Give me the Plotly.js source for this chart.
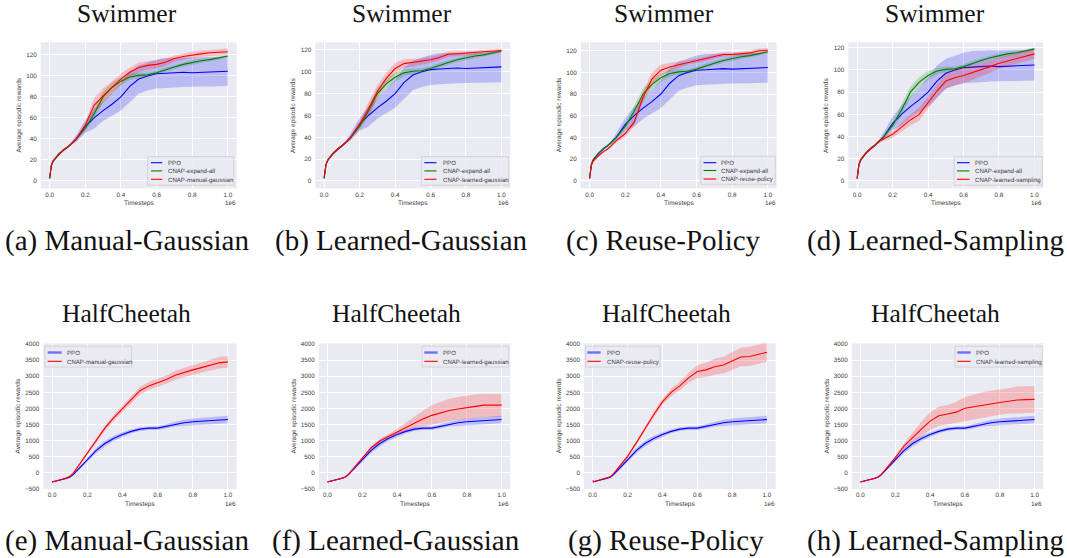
<!DOCTYPE html>
<html>
<head>
<meta charset="utf-8">
<script src="https://cdn.plot.ly/plotly-3.0.1.min.js"></script>
<style>
  body { margin: 0; background: #ffffff; }
  #chart { width: 1067px; height: 558px; }
  #chart text { text-rendering: geometricPrecision; }
</style>
</head>
<body>
<div id="chart"></div>
<script>
// Training curves: average episodic reward vs timesteps (mean with min/max band)
const timesteps = [0, 10000, 20000, 50000, 80000, 100000, 120000, 150000, 200000, 250000, 300000,
  350000, 400000, 450000, 500000, 550000, 600000, 650000, 700000, 750000, 800000, 850000,
  900000, 950000, 1000000];

const xTickVals = [0, 200000, 400000, 600000, 800000, 1000000];
const xTickText = ['0.0', '0.2', '0.4', '0.6', '0.8', '1.0'];
const swimTicks = [0, 20, 40, 60, 80, 100, 120];
const cheetahTicks = [-500, 0, 500, 1000, 1500, 2000, 2500, 3000, 3500, 4000];

// ---- Swimmer ----
const swimPpoMean = [3, 15, 19, 25, 29.5, 32, 35, 40, 52, 60, 67, 73, 80, 90, 97, 100, 102, 102.5, 103, 103.5, 103, 103.5, 104, 104, 104.5];
const swimPpoLo   = [1, 13, 17, 24, 28.5, 31, 34, 37, 46, 50, 57, 62, 67, 75, 83, 86, 88, 88.5, 89, 89.5, 90, 90, 90, 90, 90.5];
const swimPpoHi   = [5, 17, 21, 26.5, 30.5, 33, 36.5, 44, 58, 68, 76, 84, 93, 104, 110, 113, 115.5, 117, 117.5, 117.5, 117.5, 118, 118, 118, 118.5];

const swimExpandMean = [2, 15, 19, 25.5, 30, 32, 35, 40, 50, 64, 80, 89, 95, 99, 100.5, 101, 103, 106, 108.5, 111, 113, 114.5, 115.5, 117, 119];
const swimExpandLo   = [1, 14, 18, 24.5, 29, 31, 34, 38.5, 47, 59, 75, 84.5, 91, 96, 98, 99, 101, 104, 106.5, 109, 111, 112.5, 114, 115.5, 118];
const swimExpandHi   = [3, 16, 20, 26.5, 31, 33, 36, 41.5, 53, 69, 85, 93.5, 99, 102, 103, 103, 105, 108, 110.5, 113, 115, 116.5, 117, 118.5, 120];

const swimManualMean = [3, 15, 19, 25, 30, 32, 35, 40, 53, 72, 81, 89, 97, 103.5, 108, 110, 111, 113, 116.5, 118.5, 120, 121, 122, 122.5, 123];
const swimManualLo   = [2, 14, 18, 24, 29, 31, 34, 38, 50, 65, 74, 83, 92, 99, 103.5, 106, 107, 109.5, 113.5, 115.5, 117, 118, 119, 119.5, 120];
const swimManualHi   = [4, 16, 20, 26, 31, 33, 36, 42, 56, 79, 88, 95, 102, 108, 112.5, 114, 115, 116.5, 119.5, 121.5, 123, 124, 125, 125.5, 126];

const swimLearnedGMean = [3, 15, 19, 25, 29.5, 32, 35, 40, 52, 66, 82, 94, 103, 107.5, 108.5, 109.5, 111, 113, 116, 116.5, 117, 117.5, 118.5, 119, 119.5];
const swimLearnedGLo   = [2, 14, 18, 24, 28.5, 31, 34, 38, 49, 60, 76, 89, 98, 103.5, 105, 106.5, 108, 110.5, 113.5, 114.5, 115, 115.5, 117, 117.5, 118];
const swimLearnedGHi   = [4, 16, 20, 26, 30.5, 33, 36, 42, 55, 72, 88, 99, 108, 111.5, 112, 112.5, 114, 115.5, 118.5, 118.5, 119, 119.5, 120, 120.5, 121];

const swimReuseMean = [2, 14, 18, 23, 27, 29, 32, 37, 43.5, 54, 77, 94, 102, 105, 107, 109, 111, 112.5, 115, 116.5, 116.5, 117.5, 118, 120, 120.5];
const swimReuseLo   = [1, 13, 17, 22, 26, 28, 31, 35.5, 40.5, 50, 72, 88, 97, 101, 104, 107, 109, 110.5, 113, 114.5, 114.5, 115.5, 116, 118, 118.5];
const swimReuseHi   = [3, 15, 19, 24, 28, 30, 33, 38.5, 46.5, 58, 82, 100, 107, 109, 110, 111, 113, 114.5, 117, 118.5, 118.5, 119.5, 120, 122, 122.5];

const swimSamplingMean = [2, 15, 19, 25, 29.5, 32, 35.5, 38, 42, 48.5, 55, 60, 71, 81, 90, 93, 95, 97.5, 100, 103, 106, 108, 110, 112.5, 114.5];
const swimSamplingLo   = [1, 14, 18, 24, 28.5, 31, 34, 36, 39, 44.5, 50, 54, 65, 75, 83, 86, 88, 91, 94, 97.5, 101, 103, 105.5, 108, 110];
const swimSamplingHi   = [3, 16, 20, 26, 30.5, 33, 37, 40, 45, 52.5, 60, 66, 77, 87, 97, 100, 102, 104, 106, 108.5, 111, 113, 114.5, 117, 119];

// ---- HalfCheetah ----
const cheetahPpoMean = [-300, -290, -270, -230, -190, -150, -70, 100, 400, 680, 900, 1060, 1180, 1280, 1350, 1380, 1380, 1440, 1510, 1550, 1580, 1600, 1610, 1630, 1650];
const cheetahPpoLo   = [-320, -305, -285, -245, -205, -170, -110, 50, 320, 600, 810, 980, 1110, 1220, 1295, 1325, 1320, 1370, 1430, 1460, 1480, 1495, 1500, 1515, 1530];
const cheetahPpoHi   = [-280, -275, -255, -215, -175, -130, -30, 150, 480, 760, 990, 1140, 1250, 1340, 1405, 1435, 1440, 1510, 1590, 1640, 1680, 1705, 1720, 1745, 1770];

const cheetahManualMean = [-300, -290, -270, -230, -180, -130, -30, 200, 600, 1000, 1380, 1700, 2000, 2270, 2550, 2700, 2800, 2900, 3030, 3120, 3200, 3270, 3350, 3420, 3450];
const cheetahManualLo   = [-320, -305, -285, -245, -195, -150, -60, 160, 540, 930, 1300, 1610, 1900, 2160, 2430, 2580, 2680, 2770, 2890, 2970, 3050, 3110, 3180, 3240, 3270];
const cheetahManualHi   = [-280, -275, -255, -215, -165, -110, 0, 240, 660, 1070, 1460, 1790, 2100, 2380, 2670, 2820, 2920, 3030, 3170, 3270, 3350, 3430, 3520, 3600, 3630];

const cheetahLearnedGMean = [-300, -290, -270, -230, -190, -150, -70, 120, 450, 760, 980, 1120, 1250, 1400, 1550, 1670, 1780, 1860, 1930, 1980, 2030, 2060, 2100, 2100, 2100];
const cheetahLearnedGLo   = [-320, -305, -285, -245, -205, -170, -100, 80, 400, 710, 930, 1060, 1180, 1280, 1380, 1430, 1480, 1540, 1600, 1640, 1680, 1700, 1720, 1730, 1730];
const cheetahLearnedGHi   = [-280, -275, -255, -215, -175, -130, -40, 160, 500, 810, 1040, 1190, 1350, 1550, 1750, 1930, 2100, 2200, 2300, 2350, 2400, 2430, 2450, 2450, 2450];

const cheetahReuseMean = [-260, -290, -270, -220, -180, -140, -40, 150, 500, 920, 1380, 1800, 2200, 2500, 2700, 2950, 3150, 3200, 3300, 3350, 3480, 3600, 3620, 3680, 3750];
const cheetahReuseLo   = [-300, -305, -285, -235, -195, -160, -70, 110, 450, 860, 1310, 1710, 2100, 2380, 2570, 2790, 2950, 2980, 3050, 3090, 3200, 3310, 3320, 3380, 3450];
const cheetahReuseHi   = [-220, -275, -255, -205, -165, -120, -10, 190, 550, 980, 1450, 1890, 2300, 2620, 2830, 3110, 3350, 3420, 3550, 3610, 3760, 3890, 3920, 3980, 4050];

const cheetahSamplingMean = [-300, -290, -270, -230, -190, -150, -70, 120, 460, 820, 1100, 1350, 1600, 1770, 1820, 1880, 2000, 2050, 2080, 2150, 2180, 2220, 2260, 2270, 2280];
const cheetahSamplingLo   = [-320, -305, -285, -245, -205, -170, -100, 80, 420, 730, 950, 1130, 1320, 1450, 1500, 1540, 1600, 1650, 1700, 1760, 1800, 1830, 1850, 1855, 1860];
const cheetahSamplingHi   = [-280, -275, -255, -215, -175, -130, -40, 160, 500, 900, 1250, 1580, 1880, 2050, 2100, 2200, 2350, 2430, 2500, 2550, 2580, 2630, 2680, 2690, 2700];

const BLUE = '#0000ff', GREEN = '#008000', RED = '#ff0000';
const BAND = {
  [BLUE]: 'rgba(0,0,255,0.2)',
  [GREEN]: 'rgba(0,128,0,0.2)',
  [RED]: 'rgba(255,0,0,0.2)'
};

const W = 1067, H = 558;
const px = v => v / W;
const py = v => 1 - v / H;

const swimPpo = { name: 'PPO', color: BLUE, mean: swimPpoMean, lo: swimPpoLo, hi: swimPpoHi };
const swimExpand = { name: 'CNAP-expand-all', color: GREEN, mean: swimExpandMean, lo: swimExpandLo, hi: swimExpandHi };
const cheetahPpo = { name: 'PPO', color: BLUE, mean: cheetahPpoMean, lo: cheetahPpoLo, hi: cheetahPpoHi, thickKey: true };

// Subplot boxes in pixels: [left, right, top, bottom]
const panels = [
  { box: [40.7, 236.7, 42.3, 188.3], yr: [-7, 132], yt: swimTicks, env: 'Swimmer', caption: '(a) Manual-Gaussian',
    series: [swimPpo, swimExpand, { name: 'CNAP-manual-gaussian', color: RED, mean: swimManualMean, lo: swimManualLo, hi: swimManualHi }],
    leg: { box: [147.7, 233.8, 156.7, 185.2], line: [151, 162.3], text: 166.2, ys: [162.7, 170.9, 179.3] },
    ylab: 19.3, capX: 126.5 },
  { box: [315.3, 510.3, 42.3, 188.3], yr: [-6.7, 127], yt: swimTicks, env: 'Swimmer', caption: '(b) Learned-Gaussian',
    series: [swimPpo, swimExpand, { name: 'CNAP-learned-gaussian', color: RED, mean: swimLearnedGMean, lo: swimLearnedGLo, hi: swimLearnedGHi }],
    leg: { box: [421.3, 508.7, 156.7, 185.2], line: [424.3, 436.5], text: 440.5, ys: [162.7, 170.9, 179.3] },
    ylab: 293.7, capX: 401.5 },
  { box: [580.7, 776.7, 42.3, 188.3], yr: [-7.1, 127.8], yt: swimTicks, env: 'Swimmer', caption: '(c) Reuse-Policy',
    series: [swimPpo, swimExpand, { name: 'CNAP-reuse-policy', color: RED, mean: swimReuseMean, lo: swimReuseLo, hi: swimReuseHi }],
    leg: { box: [700.7, 775.3, 156.3, 184.3], line: [703.5, 716.2], text: 719.2, ys: [162.7, 170.5, 179] },
    ylab: 559, capX: 663.5 },
  { box: [848.3, 1043.3, 42.3, 188.3], yr: [-6.6, 124.9], yt: swimTicks, env: 'Swimmer', caption: '(d) Learned-Sampling',
    series: [swimPpo, swimExpand, { name: 'CNAP-learned-sampling', color: RED, mean: swimSamplingMean, lo: swimSamplingLo, hi: swimSamplingHi }],
    leg: { box: [954, 1042.3, 156.7, 185.2], line: [957, 969.5], text: 973.2, ys: [162.7, 170.9, 179.3] },
    ylab: 826.7, capX: 935 },
  { box: [43.3, 236.7, 343.3, 489], yr: [-520, 4030], yt: cheetahTicks, env: 'HalfCheetah', caption: '(e) Manual-Gaussian',
    series: [cheetahPpo, { name: 'CNAP-manual-gaussian', color: RED, mean: cheetahManualMean, lo: cheetahManualLo, hi: cheetahManualHi }],
    leg: { box: [44.8, 131.7, 346.2, 367], line: [47.7, 61.7], text: 64.5, ys: [352.5, 361.3] },
    ylab: 18.3, capX: 126.5 },
  { box: [318.7, 510.3, 343.3, 489], yr: [-520, 4030], yt: cheetahTicks, env: 'HalfCheetah', caption: '(f) Learned-Gaussian',
    series: [cheetahPpo, { name: 'CNAP-learned-gaussian', color: RED, mean: cheetahLearnedGMean, lo: cheetahLearnedGLo, hi: cheetahLearnedGHi }],
    leg: { box: [422, 508.7, 346.2, 367], line: [424.3, 437.7], text: 440.5, ys: [352.5, 361.3] },
    ylab: 294.3, capX: 396 },
  { box: [584, 775.7, 343.3, 489], yr: [-520, 4030], yt: cheetahTicks, env: 'HalfCheetah', caption: '(g) Reuse-Policy',
    series: [cheetahPpo, { name: 'CNAP-reuse-policy', color: RED, mean: cheetahReuseMean, lo: cheetahReuseLo, hi: cheetahReuseHi }],
    leg: { box: [585.7, 660, 346.2, 367], line: [587.3, 600.7], text: 604.5, ys: [352.5, 361.3] },
    ylab: 559, capX: 666 },
  { box: [851.7, 1043.3, 343.3, 489], yr: [-520, 4030], yt: cheetahTicks, env: 'HalfCheetah', caption: '(h) Learned-Sampling',
    series: [cheetahPpo, { name: 'CNAP-learned-sampling', color: RED, mean: cheetahSamplingMean, lo: cheetahSamplingLo, hi: cheetahSamplingHi }],
    leg: { box: [955, 1042.3, 346.2, 367], line: [957.3, 970.7], text: 973.5, ys: [352.5, 361.3] },
    ylab: 827.3, capX: 935 }
];

const SANS = 'Liberation Sans, Arial, sans-serif';
const SERIF = 'Liberation Serif, Times New Roman, serif';
const TICK_COLOR = '#3c3c3c';

const traces = [];
const layout = {
  width: W, height: H,
  margin: { l: 0, r: 0, t: 0, b: 0 },
  paper_bgcolor: '#ffffff',
  plot_bgcolor: '#EAEAF2',
  showlegend: false,
  annotations: [],
  shapes: []
};

const revT = timesteps.slice().reverse();

panels.forEach((p, i) => {
  const n = i + 1;
  const xa = n === 1 ? 'x' : 'x' + n;
  const ya = n === 1 ? 'y' : 'y' + n;
  const [l, r, t, b] = p.box;
  const top = t < 100;

  layout['xaxis' + (n === 1 ? '' : n)] = {
    domain: [px(l), px(r)], anchor: ya,
    range: [-50000, 1050000],
    tickvals: xTickVals, ticktext: xTickText,
    ticks: '', ticklabelstandoff: 1,
    tickfont: { family: SANS, size: 6.3, color: TICK_COLOR },
    showgrid: true, gridcolor: '#ffffff', gridwidth: 1,
    zeroline: false, showline: false, fixedrange: true
  };
  layout['yaxis' + (n === 1 ? '' : n)] = {
    domain: [py(b), py(t)], anchor: xa,
    range: p.yr,
    tickvals: p.yt,
    ticks: '', ticklabelstandoff: 3,
    tickfont: { family: SANS, size: 6.3, color: TICK_COLOR },
    showgrid: true, gridcolor: '#ffffff', gridwidth: 1,
    zeroline: false, showline: false, fixedrange: true
  };

  // bands first, then lines on top, series by series
  p.series.forEach(s => {
    traces.push({
      type: 'scatter', mode: 'lines', xaxis: xa, yaxis: ya,
      x: timesteps.concat(revT),
      y: s.hi.concat(s.lo.slice().reverse()),
      fill: 'toself', fillcolor: BAND[s.color],
      line: { width: 0, color: BAND[s.color] },
      hoverinfo: 'skip', showlegend: false
    });
    traces.push({
      type: 'scatter', mode: 'lines', xaxis: xa, yaxis: ya,
      x: timesteps, y: s.mean, name: s.name,
      line: { color: s.color, width: 1.1 },
      showlegend: false
    });
  });

  // panel heading and caption
  layout.annotations.push({
    xref: 'paper', yref: 'paper', x: px(p.capX), y: py(top ? 13.5 : 313.5),
    xanchor: 'center', yanchor: 'middle', showarrow: false, borderpad: 0,
    text: p.env, font: { family: SERIF, size: 25.5, color: '#111' }
  });
  layout.annotations.push({
    xref: 'paper', yref: 'paper', x: px(p.capX), y: py(top ? 240 : 540),
    xanchor: 'center', yanchor: 'middle', showarrow: false,
    text: p.caption, font: { family: SERIF, size: 29, color: '#111' }
  });

  // axis titles
  layout.annotations.push({
    xref: 'paper', yref: 'paper', x: px((l + r) / 2), y: py(b + 15),
    xanchor: 'center', yanchor: 'middle', showarrow: false,
    text: 'Timesteps', font: { family: SANS, size: 6.5, color: TICK_COLOR }
  });
  layout.annotations.push({
    xref: 'paper', yref: 'paper', x: px(p.ylab), y: py((t + b) / 2),
    xanchor: 'center', yanchor: 'middle', showarrow: false, textangle: -90,
    text: 'Average episodic rewards', font: { family: SANS, size: 6.5, color: TICK_COLOR }
  });
  layout.annotations.push({
    xref: 'paper', yref: 'paper', x: px(r + 1), y: py(b + 14),
    xanchor: 'right', yanchor: 'middle', showarrow: false,
    text: '1e6', font: { family: SANS, size: 6.3, color: TICK_COLOR }
  });

  // legend box
  const lg = p.leg;
  layout.shapes.push({
    type: 'rect', xref: 'paper', yref: 'paper',
    x0: px(lg.box[0]), x1: px(lg.box[1]), y0: py(lg.box[3]), y1: py(lg.box[2]),
    fillcolor: 'rgba(234,234,242,0.8)', line: { color: 'rgba(204,204,204,0.9)', width: 0.8 }
  });
  p.series.forEach((s, k) => {
    const yy = py(lg.ys[k]);
    layout.shapes.push({
      type: 'line', xref: 'paper', yref: 'paper',
      x0: px(lg.line[0]), x1: px(lg.line[1]), y0: yy, y1: yy,
      line: s.thickKey ? { color: '#6e6eff', width: 2.4 } : { color: s.color, width: 1.1 }
    });
    layout.annotations.push({
      xref: 'paper', yref: 'paper', x: px(lg.text), y: yy,
      xanchor: 'left', yanchor: 'middle', showarrow: false,
      text: s.name, font: { family: SANS, size: 6.1, color: TICK_COLOR }
    });
  });
});

Plotly.newPlot('chart', traces, layout, { displayModeBar: false, staticPlot: true });
</script>
</body>
</html>
